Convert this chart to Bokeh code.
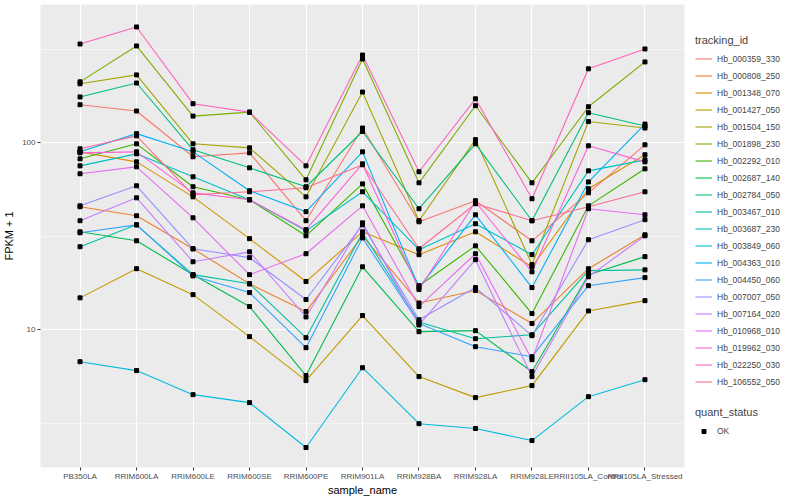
from bokeh.plotting import figure
from bokeh.layouts import row
from bokeh.models import (FactorRange, Range1d, FixedTicker, Legend, LegendItem,
                          PrintfTickFormatter)
from bokeh.embed import file_html
from bokeh.resources import INLINE

samples = ["PB350LA", "RRIM600LA", "RRIM600LE", "RRIM600SE", "RRIM600PE", "RRIM901LA",
           "RRIM928BA", "RRIM928LA", "RRIM928LE", "RRII105LA_Control", "RRII105LA_Stressed"]

tracking_ids = ["Hb_000359_330", "Hb_000808_250", "Hb_001348_070", "Hb_001427_050",
                "Hb_001504_150", "Hb_001898_230", "Hb_002292_010", "Hb_002687_140",
                "Hb_002784_050", "Hb_003467_010", "Hb_003687_230", "Hb_003849_060",
                "Hb_004363_010", "Hb_004450_060", "Hb_007007_050", "Hb_007164_020",
                "Hb_010968_010", "Hb_019962_030", "Hb_022250_030", "Hb_106552_050"]

quant_status = ["OK"]

# FPKM + 1 per sample
Hb_000359_330 = [160, 148, 84.2, 88.4, 38.3, 120, 37.8, 49.0, 29.9, 54.0, 97.6]
Hb_000808_250 = [45.5, 40.7, 27.1, 17.6, 12.5, 31.8, 13.9, 16.2, 10.8, 21.2, 32.2]
Hb_001348_070 = [89.5, 79.1, 51.4, 30.7, 18.1, 33.4, 25.2, 33.4, 21.7, 56.8, 86.3]
Hb_001427_050 = [14.8, 21.2, 15.4, 9.18, 5.34, 11.9, 5.61, 4.33, 5.02, 12.6, 14.3]
Hb_001504_150 = [207, 231, 98.8, 94.0, 51.4, 187, 38.3, 104, 22.3, 130, 120]
Hb_001898_230 = [212, 330, 139, 146, 63.4, 281, 61.1, 158, 61.1, 156, 271]
Hb_002292_010 = [82.1, 98.8, 58.2, 49.6, 31.8, 60.3, 17.2, 28.1, 12.2, 46.0, 72.6]
Hb_002687_140 = [33.4, 29.9, 19.7, 13.3, 5.68, 21.7, 9.76, 9.88, 5.96, 19.7, 24.6]
Hb_002784_050 = [176, 209, 91.8, 73.5, 58.2, 115, 44.4, 98.8, 38.3, 145, 123]
Hb_003467_010 = [27.8, 36.4, 19.7, 17.6, 9.06, 33.0, 11.0, 8.95, 9.40, 20.7, 20.9]
Hb_003687_230 = [75.3, 87.3, 65.8, 49.6, 33.8, 54.7, 26.8, 36.9, 25.2, 70.8, 81.1]
Hb_003849_060 = [6.74, 6.04, 4.49, 4.07, 2.34, 6.26, 3.14, 2.96, 2.55, 4.38, 5.40]
Hb_004363_010 = [89.5, 112, 89.5, 55.4, 42.8, 89.5, 16.8, 41.2, 16.8, 61.8, 126]
Hb_004450_060 = [33.0, 36.4, 19.4, 15.8, 8.01, 31.0, 10.8, 8.11, 7.17, 17.2, 19.0]
Hb_007007_050 = [46.0, 58.9, 27.1, 24.3, 14.5, 36.4, 11.3, 16.8, 9.29, 30.3, 38.8]
Hb_007164_020 = [38.3, 50.8, 23.1, 26.1, 11.7, 37.3, 10.6, 23.7, 5.61, 19.2, 31.8]
Hb_010968_010 = [68.3, 74.4, 39.7, 19.7, 25.5, 46.0, 13.3, 25.5, 6.91, 44.4, 41.2]
Hb_019962_030 = [88.4, 89.5, 54.0, 49.6, 34.3, 77.2, 16.4, 48.4, 20.4, 96.4, 79.1]
Hb_022250_030 = [338, 417, 162, 146, 75.3, 295, 70.0, 172, 50.2, 249, 318]
Hb_106552_050 = [92.9, 109, 52.7, 54.7, 57.5, 76.3, 27.1, 47.2, 38.3, 45.5, 54.7]

series = [Hb_000359_330, Hb_000808_250, Hb_001348_070, Hb_001427_050, Hb_001504_150,
          Hb_001898_230, Hb_002292_010, Hb_002687_140, Hb_002784_050, Hb_003467_010,
          Hb_003687_230, Hb_003849_060, Hb_004363_010, Hb_004450_060, Hb_007007_050,
          Hb_007164_020, Hb_010968_010, Hb_019962_030, Hb_022250_030, Hb_106552_050]

colors = ["#F8766D", "#EA8331", "#D89000", "#C09B00", "#A3A500", "#7CAE00", "#39B600",
          "#00BB4E", "#00BF7D", "#00C1A3", "#00BFC4", "#00BAE0", "#00B0F6", "#35A2FF",
          "#9590FF", "#C77CFF", "#E76BF3", "#FA62DB", "#FF62BC", "#FF6C91"]

FONT = "Liberation Sans"
FW, FH = 644, 463
TOP, BOTTOM = 4, 29

p = figure(frame_width=FW, frame_height=FH,
           x_range=FactorRange(*samples, range_padding=0.2, range_padding_units="absolute"),
           y_range=Range1d(1.83, 550), y_axis_type="log",
           output_backend="svg", toolbar_location=None,
           min_border_left=30, min_border_right=2, min_border_top=TOP,
           min_border_bottom=BOTTOM)

p.background_fill_color = "#EBEBEB"
p.border_fill_color = "white"
p.outline_line_color = None

p.xgrid.grid_line_color = "white"
p.xgrid.grid_line_width = 1.1
p.ygrid.grid_line_color = "white"
p.ygrid.grid_line_width = 1.1
p.ygrid.minor_grid_line_color = "white"
p.ygrid.minor_grid_line_width = 0.5

p.yaxis.ticker = FixedTicker(ticks=[10, 100], minor_ticks=[3.1623, 31.623, 316.23])
p.yaxis.formatter = PrintfTickFormatter(format="%d")

for ax in (p.xaxis, p.yaxis):
    ax.axis_line_color = None
    ax.major_tick_line_color = "#333333"
    ax.major_tick_out = 3
    ax.major_tick_in = 0
    ax.minor_tick_line_color = None
    ax.major_label_text_font = FONT
    ax.major_label_text_font_size = "8px"
    ax.major_label_text_color = "#4D4D4D"
    ax.major_label_standoff = 1
    ax.axis_label_text_font = FONT
    ax.axis_label_text_font_size = "11px"
    ax.axis_label_text_font_style = "normal"
    ax.axis_label_text_color = "black"
    ax.axis_label_standoff = 0

p.xaxis.axis_label = "sample_name"
p.yaxis.axis_label = "FPKM + 1"
p.yaxis.axis_label_standoff = 4

for vals, c in zip(series, colors):
    p.line(samples, vals, line_color=c, line_width=1.1)
for vals in series:
    p.scatter(samples, vals, marker="square", size=4, color="black")

# legend panel (separate figure with no axes); its placeholder glyphs sit
# outside its visible range so only the legend samples show
LH = TOP + FH + BOTTOM
leg = figure(width=100, height=LH, x_range=(0, 1), y_range=(0, 1),
             output_backend="svg", toolbar_location=None,
             min_border_left=0, min_border_right=0, min_border_top=0, min_border_bottom=0)
leg.axis.visible = False
leg.grid.visible = False
leg.outline_line_color = None
leg.background_fill_color = "white"
leg.border_fill_color = "white"

items = []
for tid, c in zip(tracking_ids, colors):
    r = leg.line(x=[-10, -9], y=[-10, -10], line_color=c, line_width=1.1)
    items.append(LegendItem(label=tid, renderers=[r]))
sq = leg.scatter(x=[-10], y=[-10], marker="square", size=4, color="black")

legend_style = dict(label_text_font=FONT, label_text_font_size="8.5px",
                    title_text_font=FONT, title_text_font_size="11px",
                    title_text_font_style="normal", title_standoff=4,
                    glyph_width=17, spacing=0, padding=0, margin=0,
                    label_standoff=5, label_height=17,
                    background_fill_alpha=0, border_line_color=None)

legend1 = Legend(items=items, title="tracking_id", location=(9, LH - 34 - 357 - 30),
                 glyph_height=17, **legend_style)
leg.add_layout(legend1)

legend2 = Legend(items=[LegendItem(label=quant_status[0], renderers=[sq])],
                 title="quant_status", location=(9, LH - 440 - 30),
                 glyph_height=10, **legend_style)
leg.add_layout(legend2)

layout = row(p, leg)
open("out.html", "w").write(file_html(layout, INLINE))
